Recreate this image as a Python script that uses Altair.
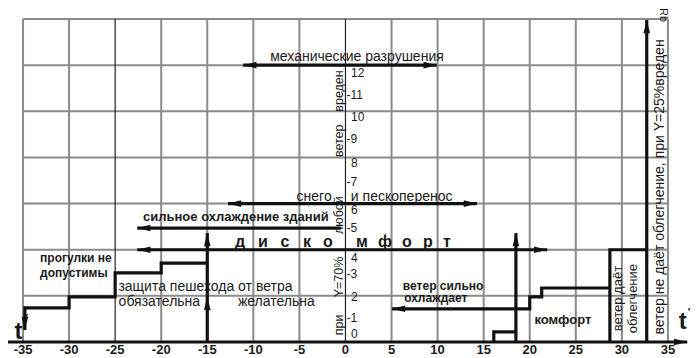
import altair as alt
import pandas as pd

# ---------------- data ----------------
# x: air temperature t, deg C ; y: position in grid rows (one row = one grid cell)
x_ticks = [-35, -30, -25, -20, -15, -10, -5, 0, 5, 10, 15, 20, 25, 30, 35]
grid_rows = [1, 2, 3, 4, 5, 6, 7]

# Beaufort (Rb) labels along the y axis and the row height at which they sit
rb_values = [0, 1, 2, 3, 4, 5, 6, 7, 8, 9, 10, 11, 12]
rb_rows = [0.17, 0.52, 0.98, 1.47, 1.82, 2.47, 2.86, 3.47, 3.88, 4.40, 4.88, 5.35, 5.83]

# thick boundary lines (polylines)
walk_x = [-34.8, -34.8, -30, -30, -25, -25, -20, -20, -15]
walk_y = [0.26, 0.74, 0.74, 0.98, 0.98, 1.50, 1.50, 1.71, 1.71]
cold15_x = [-15, -15]
cold15_y = [0, 2.36]
discomf_x = [-22.6, 21.9]
discomf_y = [2, 2]
building_x = [-22.6, -0.5]
building_y = [2.47, 2.47]
snow_x = [-12.75, 14.27]
snow_y = [3, 3]
mech_x = [-11.1, 9.9]
mech_y = [6, 6]
windcool_x = [5.05, 20.0, 20.0, 21.3, 21.3, 28.7]
windcool_y = [0.72, 0.72, 0.98, 0.98, 1.17, 1.17]
comfort_x = [16.1, 16.1, 18.5]
comfort_y = [0, 0.22, 0.22]
tall18_x = [18.5, 18.5]
tall18_y = [0, 2.36]
relief_x = [28.7, 28.7, 32.7]
relief_y = [0, 2, 2]
right_x = [32.7, 32.7]
right_y = [0, 6.98]

# arrow heads: x, y, pointing direction (deg, 0 = up, clockwise)
head_x = [-34.8, -15, -15, -22.6, 21.9, -22.6, -12.75, 14.27, -11.1, 9.9, 5.05, 18.5, 32.7, 37.1]
head_y = [0.26, 2.36, 0.98, 2, 2, 2.47, 3, 3, 6, 6, 0.72, 2.36, 6.98, 0]
head_dir = [180, 0, 0, 270, 90, 270, 270, 90, 270, 90, 270, 0, 0, 90]

# text annotations
bold_txt = ["прогулки не", "допустимы", "сильное охлаждение зданий", "ветер сильно",
            "охлаждает", "комфорт"]
bold_x = [-33.15, -33.15, -11.9, 10.6, 9.8, 23.6]
bold_y = [1.82, 1.50, 2.71, 1.22, 0.95, 0.48]
bold_size = [12, 12, 13, 12, 12, 13]

plain_txt = ["механические разрушения", "снего", "и пескоперенос",
             "защита пешехода от ветра", "обязательна", "желательна"]
plain_x = [1.25, -3.4, 6.1, -15.2, -20.2, -7.5]
plain_y = [6.18, 3.15, 3.15, 1.19, 0.87, 0.87]

disc_letters = ["д", "и", "с", "к", "о", "м", "ф", "о", "р", "т"]
disc_x = [-11.45, -8.95, -6.57, -4.18, -1.90, 1.79, 4.29, 6.67, 8.95, 11.02]
disc_row = 2.17

vert_txt = ["при", "Y=70%", "любой", "ветер", "вреден"]
vert_x = [-0.7, -0.7, -0.7, -0.7, -0.7]
vert_y = [0.37, 1.41, 2.75, 4.36, 5.44]
side_txt = ["ветер не даёт облегчение, при Y=25%вреден", "ветер даёт", "облегчение"]
side_x = [34.1, 29.6, 31.2]
side_y = [3.36, 0.94, 0.94]
side_size = [14, 13, 13]

# ---------------- scales ----------------
W, H = 683, 350
KX, KY = 9.213, 46.14
XMIN = -36.63
XMAX = XMIN + W / KX
YMAX = 7.239
YMIN = YMAX - H / KY
xs = alt.Scale(domain=[XMIN, XMAX], nice=False, zero=False)
ys = alt.Scale(domain=[YMIN, YMAX], nice=False, zero=False)
FONT = "Liberation Sans"
INK = "#1a1a1a"


def X(f="x"):
    return alt.X(f"{f}:Q", scale=xs, axis=None)


def Y(f="y"):
    return alt.Y(f"{f}:Q", scale=ys, axis=None)


# grid
vgrid = pd.DataFrame({"x": [v for v in x_ticks if v not in (0, -25)]})
vgrid["y"] = 0
vgrid["y2"] = 7
hgrid = pd.DataFrame({"y": grid_rows})
hgrid["x"] = -35
hgrid["x2"] = 35

grid_v = alt.Chart(vgrid).mark_rule(color="#8a8a8a", strokeWidth=2).encode(
    x=X(), y=Y(), y2="y2:Q")
grid_h = alt.Chart(hgrid).mark_rule(color="#8a8a8a", strokeWidth=2).encode(
    x=X(), x2="x2:Q", y=Y())
dark_v = alt.Chart(pd.DataFrame({"x": [0, -25], "y": [0, 0], "y2": [7, 7]})).mark_rule(
    color="#222", strokeWidth=1.2).encode(x=X(), y=Y(), y2="y2:Q")
x_axis = alt.Chart(pd.DataFrame({"x": [XMIN], "x2": [37.1], "y": [0]})).mark_rule(
    color="#111", strokeWidth=3).encode(x=X(), x2="x2:Q", y=Y())

# thick polylines
lines = []
for name, lx, ly in [("walk", walk_x, walk_y), ("c15", cold15_x, cold15_y),
                     ("disc", discomf_x, discomf_y), ("bld", building_x, building_y),
                     ("snow", snow_x, snow_y), ("mech", mech_x, mech_y),
                     ("wind", windcool_x, windcool_y), ("comf", comfort_x, comfort_y),
                     ("t18", tall18_x, tall18_y), ("rel", relief_x, relief_y),
                     ("right", right_x, right_y)]:
    for i, (a, b) in enumerate(zip(lx, ly)):
        lines.append({"path": name, "i": i, "x": a, "y": b})
thick = alt.Chart(pd.DataFrame(lines)).mark_line(
    color="#111", strokeWidth=3.2, strokeJoin="miter").encode(
    x=X(), y=Y(), detail="path:N", order="i:Q")

heads = alt.Chart(pd.DataFrame({"x": head_x, "y": head_y, "a": head_dir})).mark_point(
    shape="M0,0L-0.55,2.2L0.55,2.2Z", filled=True, color="#111", opacity=1, size=144,
    strokeWidth=0).encode(x=X(), y=Y(), angle=alt.Angle("a:Q", scale=None))

# texts
bold_df = pd.DataFrame({"t": bold_txt, "x": bold_x, "y": bold_y, "s": bold_size})
bold_left = alt.Chart(bold_df.iloc[:2]).mark_text(
    font=FONT, fontSize=12, fontWeight="bold", color=INK, align="left",
    baseline="middle").encode(x=X(), y=Y(), text="t:N")
bold_center = alt.Chart(bold_df.iloc[2:]).mark_text(
    font=FONT, fontWeight="bold", color=INK, align="center",
    baseline="middle").encode(x=X(), y=Y(), text="t:N",
                              size=alt.Size("s:Q", scale=None, legend=None))
plain = alt.Chart(pd.DataFrame({"t": plain_txt, "x": plain_x, "y": plain_y})).mark_text(
    font=FONT, fontSize=14, color=INK, align="center", baseline="middle").encode(
    x=X(), y=Y(), text="t:N")
disc = alt.Chart(pd.DataFrame({"t": disc_letters, "x": disc_x, "y": disc_row})).mark_text(
    font=FONT, fontSize=16, fontWeight="bold", color=INK, align="center",
    baseline="middle").encode(x=X(), y=Y(), text="t:N")
vert = alt.Chart(pd.DataFrame({"t": vert_txt, "x": vert_x, "y": vert_y})).mark_text(
    font=FONT, fontSize=12.5, color=INK, angle=270, align="center",
    baseline="middle").encode(x=X(), y=Y(), text="t:N")
side = alt.Chart(pd.DataFrame({"t": side_txt, "x": side_x, "y": side_y, "s": side_size})).mark_text(
    font=FONT, color=INK, angle=270, align="center", baseline="middle").encode(
    x=X(), y=Y(), text="t:N", size=alt.Size("s:Q", scale=None, legend=None))

rb_df = pd.DataFrame({"v": rb_values, "y": rb_rows})
rb_df["t"] = [("-" + str(v)) if v % 2 else str(v) for v in rb_values]
rb_df["x"] = [0.1 if v % 2 else 0.6 for v in rb_values]
rb_lab = alt.Chart(rb_df).mark_text(
    font=FONT, fontSize=12, color=INK, align="left", baseline="middle").encode(
    x=X(), y=Y(), text="t:N")

xt_df = pd.DataFrame({"x": x_ticks, "y": -0.17})
xt_df["t"] = [str(v) for v in x_ticks]
x_lab = alt.Chart(xt_df).mark_text(
    font=FONT, fontSize=13, fontWeight="bold", color=INK, align="center",
    baseline="middle").encode(x=X(), y=Y(), text="t:N")

t_lab = alt.Chart(pd.DataFrame({"t": ["t", "t"], "x": [-35.5, 36.6], "y": [0.22, 0.43]})).mark_text(
    font=FONT, fontSize=24, fontWeight="bold", color=INK, align="center",
    baseline="middle").encode(x=X(), y=Y(), text="t:N")
deg_lab = alt.Chart(pd.DataFrame({"t": ["'", "'"], "x": [-34.6, 37.3], "y": [0.5, 0.62]})).mark_text(
    font=FONT, fontSize=11, fontWeight="bold", color=INK, align="center",
    baseline="middle").encode(x=X(), y=Y(), text="t:N")
rb_title = alt.Chart(pd.DataFrame({"t": ["Rb"], "x": [34.5], "y": [7.087]})).mark_text(
    font=FONT, fontSize=10.5, color=INK, angle=90, align="center",
    baseline="middle").encode(x=X(), y=Y(), text="t:N")

chart = alt.layer(
    grid_v, grid_h, dark_v, x_axis, thick, heads,
    bold_left, bold_center, plain, disc, vert, side, rb_lab, x_lab, t_lab, deg_lab, rb_title
).properties(
    width=W, height=H, padding=0, autosize=alt.AutoSizeParams(type="none"),
    background="white"
).configure_view(strokeWidth=0)

chart.save("out.html", embed_options={"renderer": "svg", "actions": False})
